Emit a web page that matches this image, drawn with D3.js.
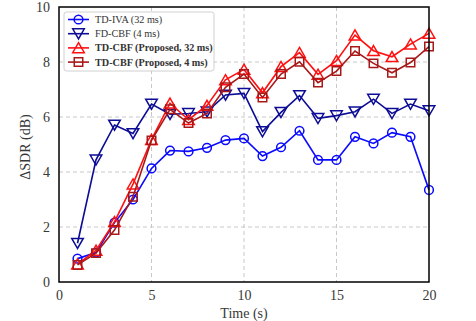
<!doctype html>
<html>
<head>
<meta charset="utf-8">
<script src="https://cdnjs.cloudflare.com/ajax/libs/d3/7.8.5/d3.min.js"></script>
<style>
  body { margin: 0; background: #fff; }
  svg { display: block; }
  svg text { font-family: "Liberation Serif", "Times New Roman", serif; }
</style>
</head>
<body>
<svg width="476" height="321"></svg>
<script>
// time steps (s)
var times = d3.range(1, 21);

var tdIva   = [0.85, 1.07, 2.16, 3.0, 4.13, 4.78, 4.75, 4.88, 5.16, 5.22, 4.58, 4.9, 5.5, 4.44, 4.44, 5.28, 5.04, 5.43, 5.28, 3.35];
var fdCbf   = [1.41, 4.44, 5.71, 5.4, 6.47, 6.1, 6.13, 6.19, 6.8, 6.86, 5.47, 6.17, 6.78, 5.95, 6.05, 6.19, 6.65, 6.13, 6.47, 6.23];
var tdCbf32 = [0.65, 1.15, 2.19, 3.56, 5.18, 6.5, 5.9, 6.42, 7.35, 7.73, 6.88, 7.83, 8.34, 7.55, 8.05, 8.98, 8.41, 8.19, 8.65, 9.04];
var tdCbf4  = [0.62, 1.05, 1.89, 3.1, 5.15, 6.28, 5.78, 6.13, 7.08, 7.56, 6.71, 7.56, 8.01, 7.25, 7.67, 8.4, 7.95, 7.61, 7.98, 8.56];

var xTicks = [0, 5, 10, 15, 20];
var yTicks = [0, 2, 4, 6, 8, 10];

var series = [
  {name: "TD-IVA (32 ms)", values: tdIva, color: "#0a0aff", marker: "circle", bold: false},
  {name: "FD-CBF (4 ms)", values: fdCbf, color: "#0c0c96", marker: "down", bold: false},
  {name: "TD-CBF (Proposed, 32 ms)", values: tdCbf32, color: "#ff1010", marker: "up", bold: true},
  {name: "TD-CBF (Proposed, 4 ms)", values: tdCbf4, color: "#a81818", marker: "square", bold: true}
];

var svg = d3.select("svg");
var pLeft = 59, pRight = 429, pTop = 7, pBottom = 282;

var x = d3.scaleLinear().domain([0, 20]).range([pLeft, pRight]);
var y = d3.scaleLinear().domain([0, 10]).range([pBottom, pTop]);

// grid
svg.append("g")
  .selectAll("line")
  .data([5, 10, 15])
  .enter().append("line")
  .attr("x1", d => x(d)).attr("x2", d => x(d))
  .attr("y1", pTop).attr("y2", pBottom)
  .attr("stroke", "#c8c8c8").attr("stroke-width", 1).attr("stroke-dasharray", "4,3");
svg.append("g")
  .selectAll("line")
  .data([2, 4, 6, 8])
  .enter().append("line")
  .attr("y1", d => y(d)).attr("y2", d => y(d))
  .attr("x1", pLeft).attr("x2", pRight)
  .attr("stroke", "#c8c8c8").attr("stroke-width", 1).attr("stroke-dasharray", "4,3");

// axes (labels only)
var xAxis = d3.axisBottom(x).tickValues(xTicks).tickSize(0).tickPadding(8);
svg.append("g").attr("transform", "translate(0," + pBottom + ")").call(xAxis)
  .call(g => g.select(".domain").remove())
  .selectAll("text").attr("font-size", 14).attr("fill", "#383838");

var yAxis = d3.axisLeft(y).tickValues(yTicks).tickSize(0).tickPadding(9);
svg.append("g").attr("transform", "translate(" + pLeft + ",0)").call(yAxis)
  .call(g => g.select(".domain").remove())
  .selectAll("text").attr("font-size", 14).attr("fill", "#383838");

svg.append("text")
  .attr("transform", "translate(25,147) rotate(-90)")
  .attr("text-anchor", "middle").attr("dy", "0.35em")
  .attr("font-size", 14).attr("fill", "#383838")
  .text("ΔSDR (dB)");
svg.append("text")
  .attr("x", (pLeft + pRight) / 2).attr("y", 318)
  .attr("text-anchor", "middle")
  .attr("font-size", 14).attr("fill", "#383838")
  .text("Time (s)");

var symbols = {
  circle: d3.symbol().type(d3.symbolCircle).size(60),
  square: d3.symbol().type(d3.symbolSquare).size(72),
  up: d3.symbol().type(d3.symbolTriangle).size(58),
  down: d3.symbol().type(d3.symbolTriangle).size(58)
};

function drawMarker(g, s, cx, cy) {
  var rot = s.marker === "down" ? " rotate(180)" : "";
  var dy = s.marker === "down" ? -1.5 : (s.marker === "up" ? 1.5 : 0);
  g.append("path")
    .attr("d", symbols[s.marker]())
    .attr("transform", "translate(" + cx + "," + (cy + dy) + ")" + rot)
    .attr("fill", "none")
    .attr("stroke", s.color)
    .attr("stroke-width", 1.5);
}

var line = d3.line().x((d, i) => x(times[i])).y(d => y(d));

var plot = svg.append("g");
series.forEach(function(s) {
  var g = plot.append("g");
  g.append("path").datum(s.values)
    .attr("d", line)
    .attr("fill", "none")
    .attr("stroke", s.color)
    .attr("stroke-width", 1.6);
  s.values.forEach(function(v, i) {
    drawMarker(g, s, x(times[i]), y(v));
  });
});

// frame
svg.append("rect")
  .attr("x", pLeft).attr("y", pTop)
  .attr("width", pRight - pLeft).attr("height", pBottom - pTop)
  .attr("fill", "none").attr("stroke", "#000").attr("stroke-width", 1.5);

// legend
var lg = svg.append("g");
lg.append("rect")
  .attr("x", 64).attr("y", 12).attr("width", 150).attr("height", 59)
  .attr("rx", 2.5).attr("fill", "#fff").attr("fill-opacity", 0.85)
  .attr("stroke", "#d0d0d0").attr("stroke-width", 1);
series.forEach(function(s, i) {
  var ly = 19.5 + i * 14.2;
  lg.append("line")
    .attr("x1", 68).attr("x2", 89).attr("y1", ly).attr("y2", ly)
    .attr("stroke", s.color).attr("stroke-width", 1.6);
  drawMarker(lg, s, 78.5, ly);
  lg.append("text")
    .attr("x", 95).attr("y", ly).attr("dy", "0.35em")
    .attr("font-size", 10.2)
    .attr("font-weight", s.bold ? "bold" : "normal")
    .attr("fill", "#333")
    .text(s.name);
});
</script>
</body>
</html>
